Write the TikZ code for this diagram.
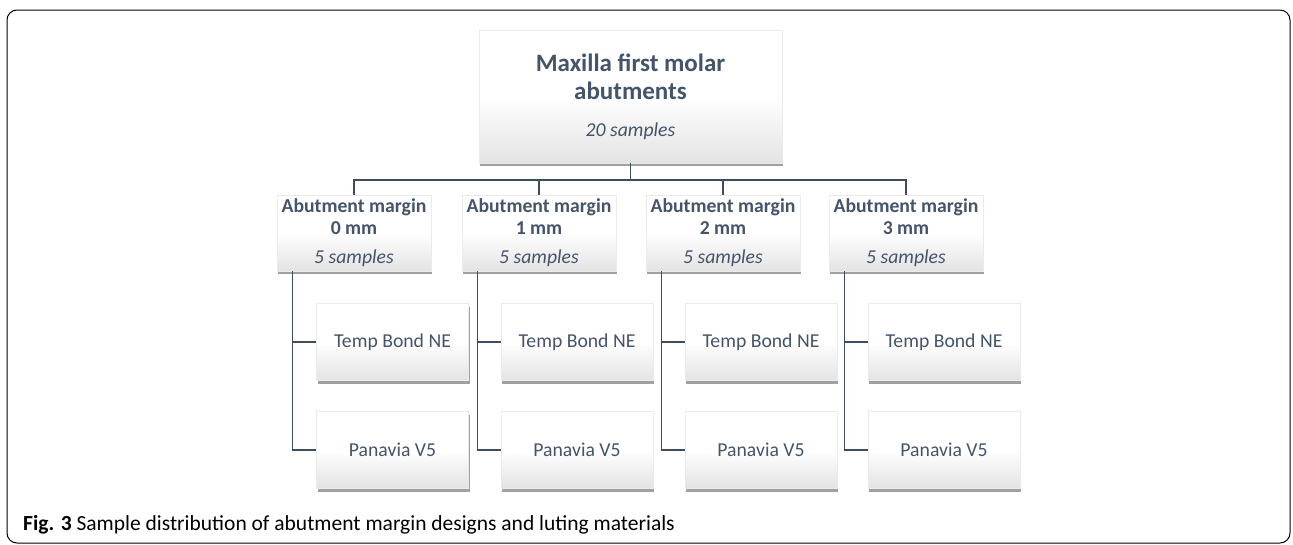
\documentclass[tikz,border=0pt]{standalone}
\usepackage{fontspec}
\setmainfont{Carlito}
\usetikzlibrary{shadows,positioning}
\definecolor{slate}{HTML}{44546A}
\definecolor{linegray}{HTML}{3E4C60}
\tikzset{
  box/.style={draw=black!8, line width=0.4pt, top color=white, bottom color=black!11,
    middle color=white, drop shadow={shadow xshift=1pt, shadow yshift=-3pt, opacity=0.75, fill=black!50},
    text=slate, align=center, inner sep=0pt},
  topbox/.style={box, minimum width=303pt, minimum height=133pt,
    font=\fontsize{25}{28}\selectfont\bfseries},
  marginbox/.style={box, minimum width=154pt, minimum height=76pt,
    font=\fontsize{19.7}{22}\selectfont\bfseries},
  cementbox/.style={box, minimum width=152pt, minimum height=77pt,
    font=\fontsize{19.7}{22}\selectfont},
  link/.style={draw=linegray, line width=1.3pt}
}
\begin{document}
\begin{tikzpicture}[x=1pt,y=-1pt]
\useasboundingbox (0,0) rectangle (1293,544);
%Khung ngoai
\draw[line width=1pt, rounded corners=10pt] (7,10) rectangle (1290,543);
%Hop tren
\node[topbox] (top) at (630.5,96.5)
  {Maxilla first molar\\abutments\\[9pt]
   \fontsize{19.7}{22}\selectfont\mdseries\itshape 20 samples};
%Hop 0 mm
\node[marginbox] (m0) at (354,233)
  {Abutment margin\\0 mm\\[7pt]\mdseries\itshape 5 samples};
%Hop 1 mm
\node[marginbox] (m1) at (539,233)
  {Abutment margin\\1 mm\\[7pt]\mdseries\itshape 5 samples};
%Hop 2 mm
\node[marginbox] (m2) at (723,233)
  {Abutment margin\\2 mm\\[7pt]\mdseries\itshape 5 samples};
%Hop 3 mm
\node[marginbox] (m3) at (906,233)
  {Abutment margin\\3 mm\\[7pt]\mdseries\itshape 5 samples};
%Xi mang
\node[cementbox] (t0) at (392.5,342) {Temp Bond NE};
\node[cementbox] (p0) at (392.5,450) {Panavia V5};
\node[cementbox] (t1) at (577,342) {Temp Bond NE};
\node[cementbox] (p1) at (577,450) {Panavia V5};
\node[cementbox] (t2) at (761,342) {Temp Bond NE};
\node[cementbox] (p2) at (761,450) {Panavia V5};
\node[cementbox] (t3) at (944,342) {Temp Bond NE};
\node[cementbox] (p3) at (944,450) {Panavia V5};
%Duong noi tren
\coordinate (bar) at (630.5,180);
\draw[link] (top.south) -- (bar);
\draw[link] (m0.north) |- (bar) -| (m3.north);
\draw[link] (m1.north) -- (m1.north |- bar);
\draw[link] (m2.north) -- (m2.north |- bar);
%Duong noi duoi
\draw[link] ([xshift=16pt]m0.south west) |- (t0.west);
\draw[link] ([xshift=16pt]m0.south west) |- (p0.west);
\draw[link] ([xshift=16pt]m1.south west) |- (t1.west);
\draw[link] ([xshift=16pt]m1.south west) |- (p1.west);
\draw[link] ([xshift=16pt]m2.south west) |- (t2.west);
\draw[link] ([xshift=16pt]m2.south west) |- (p2.west);
\draw[link] ([xshift=16pt]m3.south west) |- (t3.west);
\draw[link] ([xshift=16pt]m3.south west) |- (p3.west);
%Chu thich
\node[anchor=base west, inner sep=0pt, font=\fontsize{21.5}{24}\selectfont] (cap) at (23,530)
  {\textbf{Fig. 3} Sample distribution of abutment margin designs and luting materials};
\end{tikzpicture}
\end{document}
